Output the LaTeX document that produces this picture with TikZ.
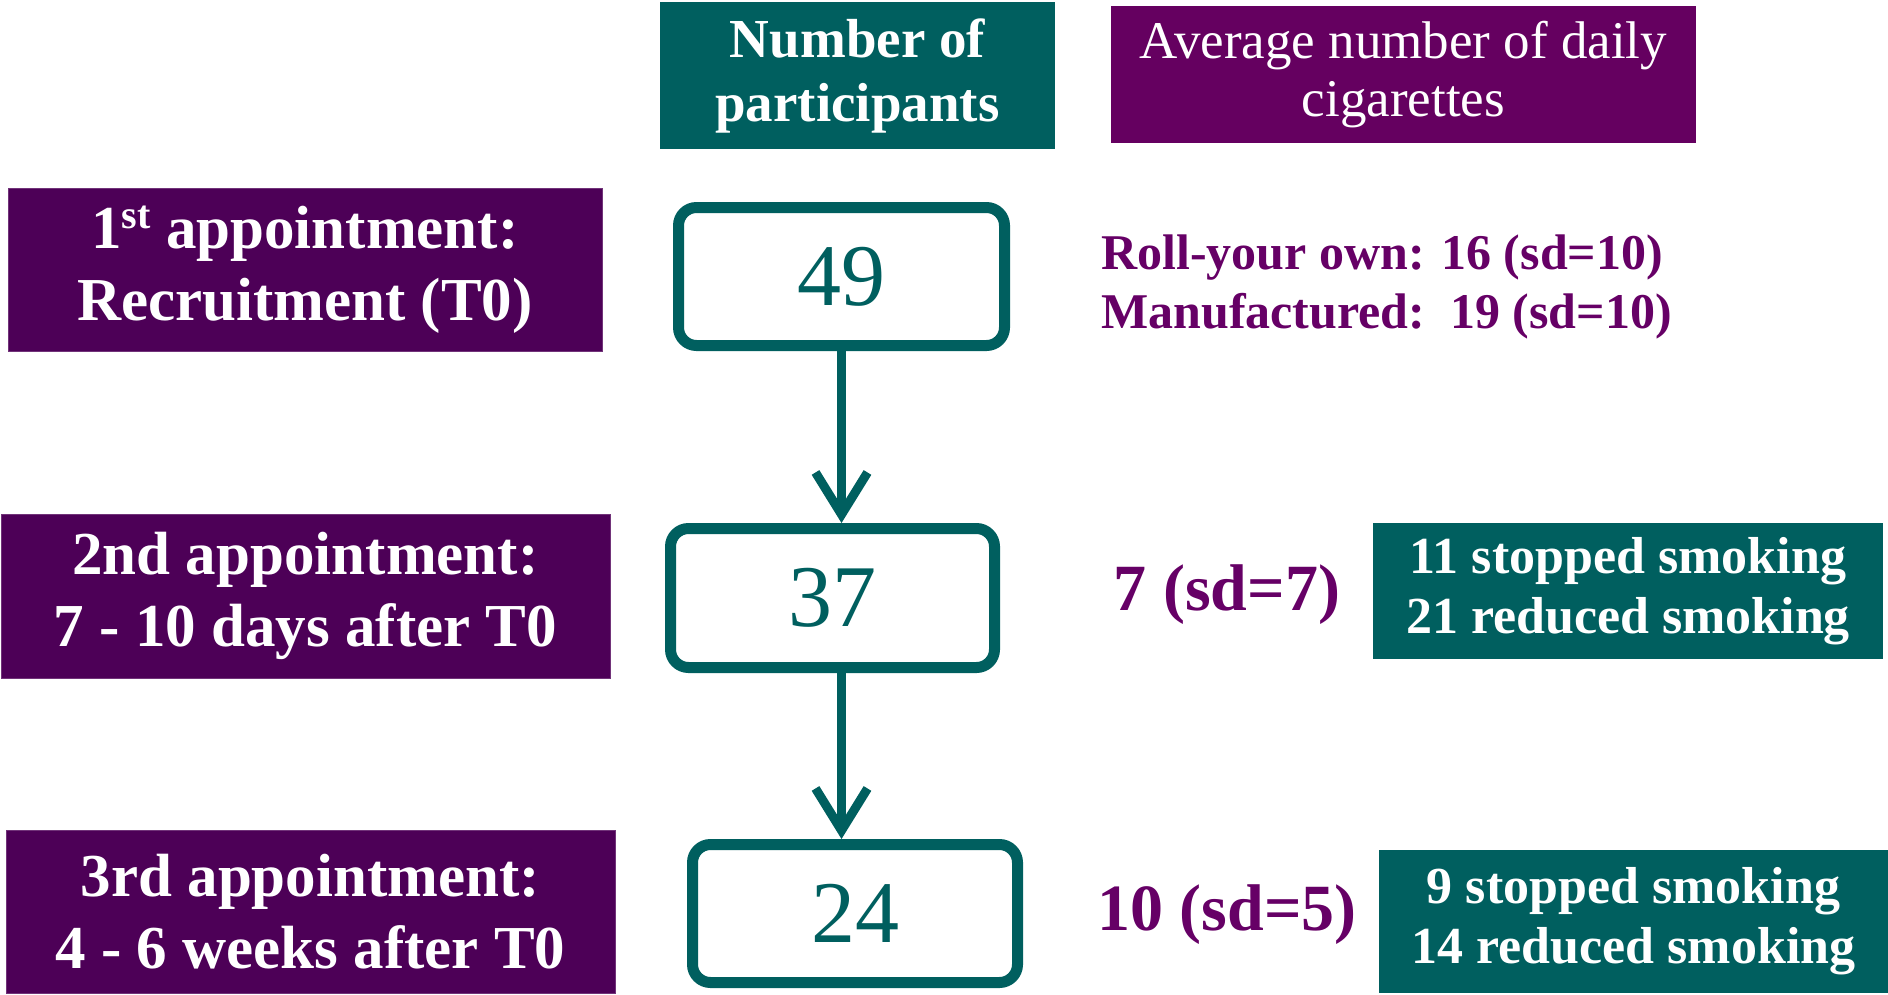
\documentclass[tikz,border=0pt]{standalone}
\usepackage{fontspec}
\setmainfont{Liberation Serif}
\usetikzlibrary{arrows.meta}
\definecolor{tealc}{HTML}{005F5F}
\definecolor{darkpurp}{HTML}{4D0057}
\definecolor{headpurp}{HTML}{650060}
\definecolor{textpurp}{HTML}{660066}
\tikzset{
  leftbox/.style={fill=darkpurp, draw=darkpurp!80!white, line width=1pt, text=white, align=center, inner sep=0pt,
    font=\bfseries\fontsize{61}{72}\selectfont},
  numbox/.style={draw=tealc, line width=11pt, rounded corners=18pt, fill=white, text=tealc, inner sep=0pt,
    font=\fontsize{88}{90}\selectfont},
  statbox/.style={fill=tealc, text=white, align=center, inner sep=0pt,
    font=\bfseries\fontsize{52}{60}\selectfont},
  flow/.style={draw=tealc, line width=9pt, -{Straight Barb[length=42pt, width=52pt]}},
  meantext/.style={text=textpurp, inner sep=0pt, font=\bfseries\fontsize{66}{70}\selectfont}
}
\begin{document}
\begin{tikzpicture}[x=1pt, y=-1pt]
\useasboundingbox (0,0) rectangle (1888,994);
% headers
\node[fill=tealc, text=white, align=center, inner sep=0pt, minimum width=395pt, minimum height=147pt,
  font=\bfseries\fontsize{55}{64}\selectfont] (hnum) at (857.5,75.5) {Number of\\participants};
\node[fill=headpurp, text=white, align=center, inner sep=0pt, minimum width=585pt, minimum height=137pt,
  font=\fontsize{53}{58}\selectfont] (havg) at (1403.5,74.5) {Average number of daily\\cigarettes};
% left labels
\node[leftbox, minimum width=594pt, minimum height=163pt] (l1) at (305,269.5) {1{\fontsize{40}{40}\selectfont\raisebox{20pt}{st}} appointment:\\Recruitment (T0)};
\node[leftbox, minimum width=609pt, minimum height=164pt] (l2) at (305.5,596) {2nd appointment:\\7 - 10 days after T0};
\node[leftbox, minimum width=609pt, minimum height=163pt] (l3) at (310.5,911.5) {3rd appointment:\\4 - 6 weeks after T0};
% number boxes
\node[numbox, minimum width=326pt, minimum height=138pt] (b49) at (841.5,276.5) {49};
\node[numbox, minimum width=324pt, minimum height=139pt] (b37) at (832.5,598) {37};
\node[numbox, minimum width=325pt, minimum height=138pt] (b24) at (855,913.5) {24};
% arrows
\draw[flow] (b49.south) -- (b49.south |- b37.north);
\draw[flow] (b49.south |- b37.south) -- (b49.south |- b24.north);
% averages
\node[text=textpurp, inner sep=0pt, anchor=west, align=left, font=\bfseries\fontsize{50}{59}\selectfont] (t0avg) at (1101,287)
  {Roll-your own: 16 (sd=10)\\Manufactured:\ \ 19 (sd=10)};
\node[meantext] (t1avg) at (1227,595) {7 (sd=7)};
\node[meantext] (t2avg) at (1227,915) {10 (sd=5)};
% outcome boxes
\node[statbox, minimum width=510pt, minimum height=136pt] (s1) at (1628,591) {11 stopped smoking\\21 reduced smoking};
\node[statbox, minimum width=509pt, minimum height=143pt] (s2) at (1633.5,921.5) {9 stopped smoking\\14 reduced smoking};
\end{tikzpicture}
\end{document}
